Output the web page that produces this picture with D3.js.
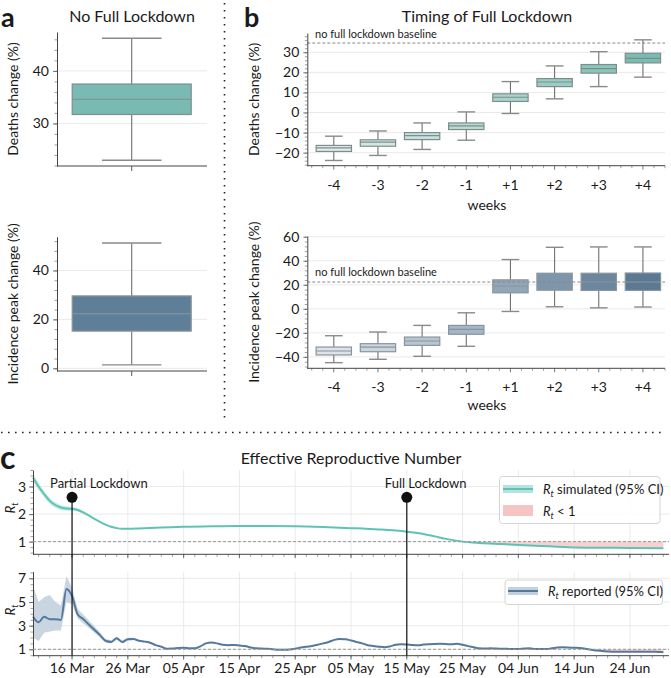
<!DOCTYPE html>
<html><head><meta charset="utf-8">
<script src="https://cdn.jsdelivr.net/npm/d3@7"></script>
<style>
body{margin:0;background:#fff}
svg text{font-family:Lato,"Noto Sans",sans-serif;fill:#1a1a1a}
</style>
</head><body>
<svg id="chart" width="671" height="678"></svg>
<script>
// ---------------- DATA ----------------
// Panel a: [low whisker, Q1, median, Q3, high whisker]
const aDeathsBox = [23.0, 31.7, 34.6, 37.5, 46.2];
const aIncidenceBox = [1.4, 15.2, 22.3, 29.6, 51.2];

// Panel b
const weeks = ["-4","-3","-2","-1","+1","+2","+3","+4"];
const deathsLow  = [-23.9,-21.4,-18.4,-13.8,-0.5, 6.8,12.9,17.6];
const deathsQ1   = [-19.4,-16.8,-13.5, -8.5, 5.5,12.9,19.6,24.7];
const deathsMed  = [-17.6,-14.8,-11.5, -6.7, 7.6,15.2,21.9,27.0];
const deathsQ3   = [-16.4,-13.6,-10.0, -5.2, 9.3,16.9,23.9,29.5];
const deathsHigh = [-11.8, -9.2, -5.2,  0.3,15.4,23.2,30.3,36.2];
const incLow  = [-44.8,-42.0,-39.5,-31.2,-2.2, 1.7, 0.8, 1.5];
const incQ1   = [-38.4,-35.7,-30.4,-21.2,13.3,15.5,15.3,15.3];
const incMed  = [-35.1,-31.8,-26.8,-17.1,18.8,22.3,22.3,22.3];
const incQ3   = [-31.8,-29.0,-23.5,-13.8,24.1,29.6,29.6,29.8];
const incHigh = [-22.4,-19.3,-13.8, -3.3,41.0,51.2,51.5,51.5];
const deathsBaseline = 34.6;
const incidenceBaseline = 22.3;

// Panel c: simulated Rt
const simDates = ["2020-03-09","2020-03-10","2020-03-11","2020-03-12","2020-03-13","2020-03-14","2020-03-15","2020-03-16","2020-03-17","2020-03-18","2020-03-19","2020-03-20","2020-03-21","2020-03-22","2020-03-23","2020-03-24","2020-03-25","2020-03-26","2020-03-28","2020-04-01","2020-04-05","2020-04-10","2020-04-15","2020-04-20","2020-04-25","2020-04-30","2020-05-05","2020-05-10","2020-05-15","2020-05-18","2020-05-20","2020-05-22","2020-05-25","2020-05-28","2020-06-01","2020-06-04","2020-06-08","2020-06-13","2020-06-18","2020-06-24","2020-06-30"];
const simRt = [3.32,3.0,2.72,2.48,2.33,2.24,2.2,2.19,2.15,2.06,1.95,1.83,1.72,1.62,1.54,1.49,1.47,1.47,1.48,1.51,1.54,1.56,1.57,1.57,1.56,1.53,1.49,1.44,1.36,1.28,1.19,1.1,1.0,0.95,0.91,0.88,0.84,0.80,0.78,0.77,0.76];
const simCiDates = ["2020-03-09","2020-03-10","2020-03-11","2020-03-12","2020-03-13","2020-03-14","2020-03-15","2020-03-16","2020-03-17","2020-03-18","2020-03-19","2020-03-20","2020-03-21"];
const simLo = [3.17,2.87,2.60,2.37,2.23,2.15,2.12,2.12,2.09,2.01,1.92,1.81,1.71];
const simHi = [3.47,3.13,2.84,2.59,2.43,2.33,2.28,2.26,2.21,2.11,1.98,1.85,1.73];
const rtBelowOneStart = "2020-05-25";

// Panel c: reported Rt (daily from 9 Mar)
const repStart = "2020-03-09";
const repRt = [3.76,3.28,3.76,3.54,3.55,3.48,6.1,5.5,3.96,3.56,3.1,2.65,2.2,1.72,1.62,1.93,1.62,1.85,1.87,1.72,1.65,1.56,1.35,1.22,1.05,1.06,1.12,1.14,1.1,1.08,1.25,1.5,1.58,1.5,1.38,1.35,1.36,1.32,1.28,1.15,1.08,1.06,1.05,1.0,0.96,0.96,0.98,1.05,1.15,1.22,1.28,1.38,1.5,1.62,1.8,1.87,1.85,1.75,1.62,1.5,1.35,1.28,1.22,1.18,1.25,1.38,1.42,1.4,1.36,1.34,1.4,1.43,1.45,1.46,1.45,1.42,1.46,1.38,1.27,1.18,1.08,1.06,1.08,1.06,1.05,1.04,1.03,1.03,1.06,1.08,1.03,1.02,1.02,1.08,1.15,1.17,1.15,1.13,1.11,1.05,0.96,0.9,0.85,0.82,0.8,0.8,0.8,0.8,0.8,0.8,0.8,0.8,0.78,0.76];
const repLo = [2.0,1.7,2.4,2.5,2.6,2.6,5.0,4.8,3.6,3.2,2.8,2.4,2.0,1.58,1.5,1.8,1.5,1.74,1.76];
const repHi = [6.4,5.0,5.4,5.6,5.0,4.7,7.2,6.2,4.4,3.95,3.45,2.95,2.45,1.88,1.76,2.06,1.74,1.97,1.98];

const partialLockdown = "2020-03-16";
const fullLockdown = "2020-05-15";

// ---------------- DRAW ----------------
const svg = d3.select("#chart");
const parse = d3.timeParse("%Y-%m-%d");
const GRID = "#e4e4e4", SPINE = "#444", TICK = "#555";
const intFmt = d3.format("d");

function styleAxis(g){
  g.select(".domain").attr("stroke", SPINE).attr("stroke-width", 1);
  g.selectAll(".tick line").attr("stroke", TICK).attr("stroke-width", 0.8);
  g.selectAll(".tick text").style("font-size", "14px").attr("fill", "#1a1a1a");
}
function yAxis(y, x0, major, minor, label, labelX, pad){
  const gm = svg.append("g").attr("transform", `translate(${x0},0)`)
    .call(d3.axisLeft(y).tickValues(minor).tickSize(2.5).tickFormat(""));
  gm.select(".domain").remove();
  gm.selectAll(".tick line").attr("stroke", "#777").attr("stroke-width", 0.7);
  const g = svg.append("g").attr("transform", `translate(${x0},0)`)
    .call(d3.axisLeft(y).tickValues(major).tickFormat(intFmt).tickSize(4).tickPadding(pad == null ? 4 : pad).tickSizeOuter(0));
  styleAxis(g);
  if (label) {
    const r = y.range();
    svg.append("text").attr("transform", `translate(${labelX},${(r[0]+r[1])/2}) rotate(-90)`)
      .attr("text-anchor","middle").style("font-size","14px").text(label);
  }
}
function hgrid(y, x0, x1, vals){
  svg.append("g").selectAll("line").data(vals).join("line")
    .attr("x1", x0).attr("x2", x1).attr("y1", d=>y(d)).attr("y2", d=>y(d))
    .attr("stroke", GRID).attr("stroke-width", 0.8);
}
function box(y, cx, w, stats, fill, edge){
  const [lo,q1,med,q3,hi] = stats;
  const g = svg.append("g");
  g.append("line").attr("x1",cx).attr("x2",cx).attr("y1",y(hi)).attr("y2",y(q3)).attr("stroke","#707070").attr("stroke-width",1.1);
  g.append("line").attr("x1",cx).attr("x2",cx).attr("y1",y(q1)).attr("y2",y(lo)).attr("stroke","#707070").attr("stroke-width",1.1);
  g.append("line").attr("x1",cx-w/4).attr("x2",cx+w/4).attr("y1",y(hi)).attr("y2",y(hi)).attr("stroke","#8a8a8a").attr("stroke-width",1.4);
  g.append("line").attr("x1",cx-w/4).attr("x2",cx+w/4).attr("y1",y(lo)).attr("y2",y(lo)).attr("stroke","#8a8a8a").attr("stroke-width",1.4);
  g.append("rect").attr("x",cx-w/2).attr("width",w).attr("y",y(q3)).attr("height",y(q1)-y(q3))
    .attr("fill",fill).attr("stroke",edge).attr("stroke-width",1.2);
  g.append("line").attr("x1",cx-w/2).attr("x2",cx+w/2).attr("y1",y(med)).attr("y2",y(med)).attr("stroke",edge).attr("stroke-width",1.2);
}
function xSpine(x0, x1, yy){
  svg.append("line").attr("x1",x0).attr("x2",x1).attr("y1",yy).attr("y2",yy).attr("stroke",SPINE).attr("stroke-width",1);
}

// ---- Panel a ----
svg.append("text").attr("x",1).attr("y",27).style("font-size","27px").style("font-weight","700").text("a");
svg.append("text").attr("x",132).attr("y",22).attr("text-anchor","middle").style("font-size","16px").text("No Full Lockdown");
const aX0 = 57, aX1 = 207, aCx = 131.7, aW = 119;
const yAD = d3.scaleLinear().domain([21.9, 47.4]).range([166, 32]);
hgrid(yAD, aX0, aX1, [30,40]);
box(yAD, aCx, aW, aDeathsBox, "#79bab3", "#7f8f8d");
yAxis(yAD, aX0, [30,40], d3.range(22,48,2), "Deaths change (%)", 18);
xSpine(aX0, aX1, 166);
svg.append("line").attr("x1",aCx).attr("x2",aCx).attr("y1",166).attr("y2",171).attr("stroke",TICK);

const yAI = d3.scaleLinear().domain([-1.1, 53.8]).range([371, 236.7]);
hgrid(yAI, aX0, aX1, [0,20,40]);
box(yAI, aCx, aW, aIncidenceBox, "#5f7f98", "#8a949c");
yAxis(yAI, aX0, [0,20,40], d3.range(0,54,4), "Incidence peak change (%)", 18);
xSpine(aX0, aX1, 371);
svg.append("line").attr("x1",aCx).attr("x2",aCx).attr("y1",371).attr("y2",376).attr("stroke",TICK);

// ---- Panel b ----
svg.append("text").attr("x",244).attr("y",27).style("font-size","27px").style("font-weight","700").text("b");
svg.append("text").attr("x",487).attr("y",22).attr("text-anchor","middle").style("font-size","16px").text("Timing of Full Lockdown");
const bX = d3.scaleLinear().domain([-0.6, 7.5]).range([307.3, 665]);
const bw = bX(0.8) - bX(0);
const tealCols = ["#dcefec","#d1e9e5","#c4e3de","#b6dcd6","#a7d5ce","#98cec6","#89c6be","#78bdb4"];
const blueCols = ["#dde3e8","#cbd5de","#b8c6d2","#a5b6c6","#91a6b9","#7e96ac","#6b879f","#5a7993"];

function bXAxis(yy, labelY){
  const minor = d3.range(-0.5, 7.51, 0.25).filter(v => Math.abs(v - Math.round(v)) > 1e-6);
  svg.append("g").selectAll("line").data(minor).join("line")
    .attr("x1",d=>bX(d)).attr("x2",d=>bX(d)).attr("y1",yy).attr("y2",yy+2.5).attr("stroke","#777").attr("stroke-width",0.7);
  svg.append("g").selectAll("line").data(weeks).join("line")
    .attr("x1",(d,i)=>bX(i)).attr("x2",(d,i)=>bX(i)).attr("y1",yy).attr("y2",yy+4).attr("stroke",TICK).attr("stroke-width",0.8);
  svg.append("g").selectAll("text").data(weeks).join("text")
    .attr("x",(d,i)=>bX(i)).attr("y",yy+24).attr("text-anchor","middle").style("font-size","14px").text(d=>d);
  xSpine(307.3, 665, yy);
  svg.append("text").attr("x",487).attr("y",labelY).attr("text-anchor","middle").style("font-size","14px").text("weeks");
}

const yBD = d3.scaleLinear().domain([-26.5, 39.6]).range([165.7, 33]);
hgrid(yBD, 307.3, 665, [-20,-10,0,10,20,30]);
weeks.forEach((w,i)=> box(yBD, bX(i), bw, [deathsLow[i],deathsQ1[i],deathsMed[i],deathsQ3[i],deathsHigh[i]], tealCols[i], "#808c8a"));
svg.append("line").attr("x1",307.3).attr("x2",665).attr("y1",yBD(deathsBaseline)).attr("y2",yBD(deathsBaseline))
  .attr("stroke","#888").attr("stroke-width",1).attr("stroke-dasharray","3,2");
svg.append("text").attr("x",315).attr("y",38).style("font-size","11px").text("no full lockdown baseline");
yAxis(yBD, 307.3, [-20,-10,0,10,20,30], d3.range(-26,40,2), "Deaths change (%)", 259);
bXAxis(165.7, 210);

const yBI = d3.scaleLinear().domain([-49.5, 60.6]).range([368.3, 236]);
hgrid(yBI, 307.3, 665, [-40,-20,0,20,40,60]);
weeks.forEach((w,i)=> box(yBI, bX(i), bw, [incLow[i],incQ1[i],incMed[i],incQ3[i],incHigh[i]], blueCols[i], "#8a949c"));
svg.append("line").attr("x1",307.3).attr("x2",665).attr("y1",yBI(incidenceBaseline)).attr("y2",yBI(incidenceBaseline))
  .attr("stroke","#888").attr("stroke-width",1).attr("stroke-dasharray","3,2");
svg.append("text").attr("x",315).attr("y",276).style("font-size","11px").text("no full lockdown baseline");
yAxis(yBI, 307.3, [-40,-20,0,20,40,60], d3.range(-48,61,4), "Incidence peak change (%)", 259);
bXAxis(368.3, 410);

// separators
svg.append("line").attr("x1",224.5).attr("x2",224.5).attr("y1",3).attr("y2",418)
  .attr("stroke","#222").attr("stroke-width",1.6).attr("stroke-dasharray","1.6,5.4");
svg.append("line").attr("x1",1).attr("x2",662).attr("y1",432.5).attr("y2",432.5)
  .attr("stroke","#222").attr("stroke-width",1.6).attr("stroke-dasharray","1.6,5.4");

// ---- Panel c ----
svg.append("text").attr("x",0).attr("y",469).style("font-size","32px").style("font-weight","700").text("c");
svg.append("text").attr("x",351).attr("y",464).attr("text-anchor","middle").style("font-size","16px").text("Effective Reproductive Number");

const cX = d3.scaleTime().domain([parse("2020-03-09"), parse("2020-07-01")]).range([33, 669]);
const majorDates = d3.timeDay.range(parse("2020-03-16"), parse("2020-07-01"), 10);
const minorDates = d3.timeDay.range(parse("2020-03-10"), parse("2020-07-01"), 2);
const yCT = d3.scaleLinear().domain([0.54, 3.6]).range([554.3, 470]);
const yCB = d3.scaleLinear().domain([0.46, 7.56]).range([655.7, 571.7]);

const simPts = simDates.map((d,i)=>({d:parse(d), v:simRt[i]}));
const simCi = simCiDates.map((d,i)=>({d:parse(d), lo:simLo[i], hi:simHi[i]}));
const rep0 = parse(repStart);
const repPts = repRt.map((v,i)=>({d:d3.timeDay.offset(rep0,i), v}));
const repCi = repLo.map((lo,i)=>({d:d3.timeDay.offset(rep0,i), lo, hi:repHi[i]}));
const belowStart = parse(rtBelowOneStart);

function cGrid(y, yTicks, topY, botY){
  svg.append("g").selectAll("line").data(majorDates).join("line")
    .attr("x1",d=>cX(d)).attr("x2",d=>cX(d)).attr("y1",topY).attr("y2",botY).attr("stroke",GRID).attr("stroke-width",0.8);
  hgrid(y, 33, 669, yTicks);
}
function cAxes(y, yTicks, yMinor, botY, labels){
  yAxis(y, 33, yTicks, yMinor, null, 0, 3);
  svg.append("g").selectAll("line").data(minorDates).join("line")
    .attr("x1",d=>cX(d)).attr("x2",d=>cX(d)).attr("y1",botY).attr("y2",botY+2.5).attr("stroke","#777").attr("stroke-width",0.7);
  svg.append("g").selectAll("line").data(majorDates).join("line")
    .attr("x1",d=>cX(d)).attr("x2",d=>cX(d)).attr("y1",botY).attr("y2",botY+4).attr("stroke",TICK).attr("stroke-width",0.8);
  if (labels) svg.append("g").selectAll("text").data(majorDates).join("text")
    .attr("x",d=>cX(d)).attr("y",botY+17).attr("text-anchor","middle").style("font-size","14px")
    .text(d3.timeFormat("%d %b"));
  xSpine(33, 669, botY);
  svg.append("line").attr("x1",33).attr("x2",669).attr("y1",y(1)).attr("y2",y(1))
    .attr("stroke","#999").attr("stroke-width",1).attr("stroke-dasharray","3,2");
}
function rtLabel(cy){
  const t = svg.append("text").attr("transform",`translate(15,${cy}) rotate(-90)`).attr("text-anchor","middle").style("font-size","13.5px");
  t.append("tspan").style("font-style","italic").text("R");
  t.append("tspan").style("font-style","italic").style("font-size","9px").attr("dy",2.5).text("t");
}

// top
cGrid(yCT, [1,2,3], 470, 554.3);
svg.append("path").datum(simPts.filter(p=>p.d>=belowStart))
  .attr("fill","#f7c4c4").attr("opacity",0.8)
  .attr("d", d3.area().x(p=>cX(p.d)).y0(yCT(1)).y1(p=>yCT(Math.min(p.v,1))).curve(d3.curveMonotoneX));
svg.append("path").datum(simCi).attr("fill","#9fdcd3").attr("opacity",0.55)
  .attr("d", d3.area().x(p=>cX(p.d)).y0(p=>yCT(p.lo)).y1(p=>yCT(p.hi)).curve(d3.curveMonotoneX));
svg.append("path").datum(simPts).attr("fill","none").attr("stroke","#5ec3b6").attr("stroke-width",2)
  .attr("d", d3.line().x(p=>cX(p.d)).y(p=>yCT(p.v)).curve(d3.curveMonotoneX));
cAxes(yCT, [1,2,3], d3.range(0.6,3.61,0.2), 554.3, false);
rtLabel(508);

// bottom
cGrid(yCB, [1,3,5,7], 571.7, 655.7);
svg.append("path").datum(repPts.filter(p=>p.d>=belowStart))
  .attr("fill","#f7c4c4").attr("opacity",0.8)
  .attr("d", d3.area().x(p=>cX(p.d)).y0(yCB(1)).y1(p=>yCB(Math.min(p.v,1))));
svg.append("path").datum(repCi).attr("fill","#c3d1de").attr("opacity",0.9)
  .attr("d", d3.area().x(p=>cX(p.d)).y0(p=>yCB(p.lo)).y1(p=>yCB(p.hi)));
svg.append("path").datum(repPts).attr("fill","none").attr("stroke","#55799c").attr("stroke-width",2)
  .attr("d", d3.line().x(p=>cX(p.d)).y(p=>yCB(p.v)).curve(d3.curveMonotoneX));
cAxes(yCB, [1,3,5,7], d3.range(0.5,7.51,0.5), 655.7, true);
rtLabel(610);

// legends
function legendText(g, x, y, rest){
  const t = g.append("text").attr("x",x).attr("y",y).style("font-size","13px");
  t.append("tspan").style("font-style","italic").text("R");
  t.append("tspan").style("font-style","italic").style("font-size","9px").attr("dy",3).text("t");
  t.append("tspan").attr("dy",-3).text(rest);
}
const lg1 = svg.append("g");
lg1.append("rect").attr("x",499.5).attr("y",476.5).attr("width",160.5).attr("height",47).attr("rx",3)
  .attr("fill","#fff").attr("fill-opacity",0.85).attr("stroke","#d4d4d4");
lg1.append("rect").attr("x",503).attr("y",485).attr("width",30).attr("height",8).attr("fill","#b5e3dd");
lg1.append("line").attr("x1",503).attr("x2",533).attr("y1",489).attr("y2",489).attr("stroke","#5ec3b6").attr("stroke-width",2);
legendText(lg1, 543, 494, " simulated (95% CI)");
lg1.append("rect").attr("x",503).attr("y",505).attr("width",30).attr("height",11).attr("fill","#f7c4c4");
legendText(lg1, 543, 515.5, " < 1");

const lg2 = svg.append("g");
lg2.append("rect").attr("x",505).attr("y",580).attr("width",157.5).attr("height",24.5).attr("rx",3)
  .attr("fill","#fff").attr("fill-opacity",0.85).attr("stroke","#d4d4d4");
lg2.append("rect").attr("x",508).attr("y",587).attr("width",30).attr("height",8).attr("fill","#c3d1de");
lg2.append("line").attr("x1",508).attr("x2",538).attr("y1",591).attr("y2",591).attr("stroke","#55799c").attr("stroke-width",2);
legendText(lg2, 548, 596, " reported (95% CI)");

// annotations
[[partialLockdown,"Partial Lockdown"],[fullLockdown,"Full Lockdown"]].forEach(([d,lab])=>{
  const x = cX(parse(d));
  svg.append("line").attr("x1",x).attr("x2",x).attr("y1",497.3).attr("y2",655.7).attr("stroke","#111").attr("stroke-width",1.2);
  svg.append("circle").attr("cx",x).attr("cy",497.3).attr("r",5.5).attr("fill","#111");
  svg.append("text").attr("x",x-22).attr("y",488).style("font-size","13px").text(lab);
});
</script>
</body></html>
